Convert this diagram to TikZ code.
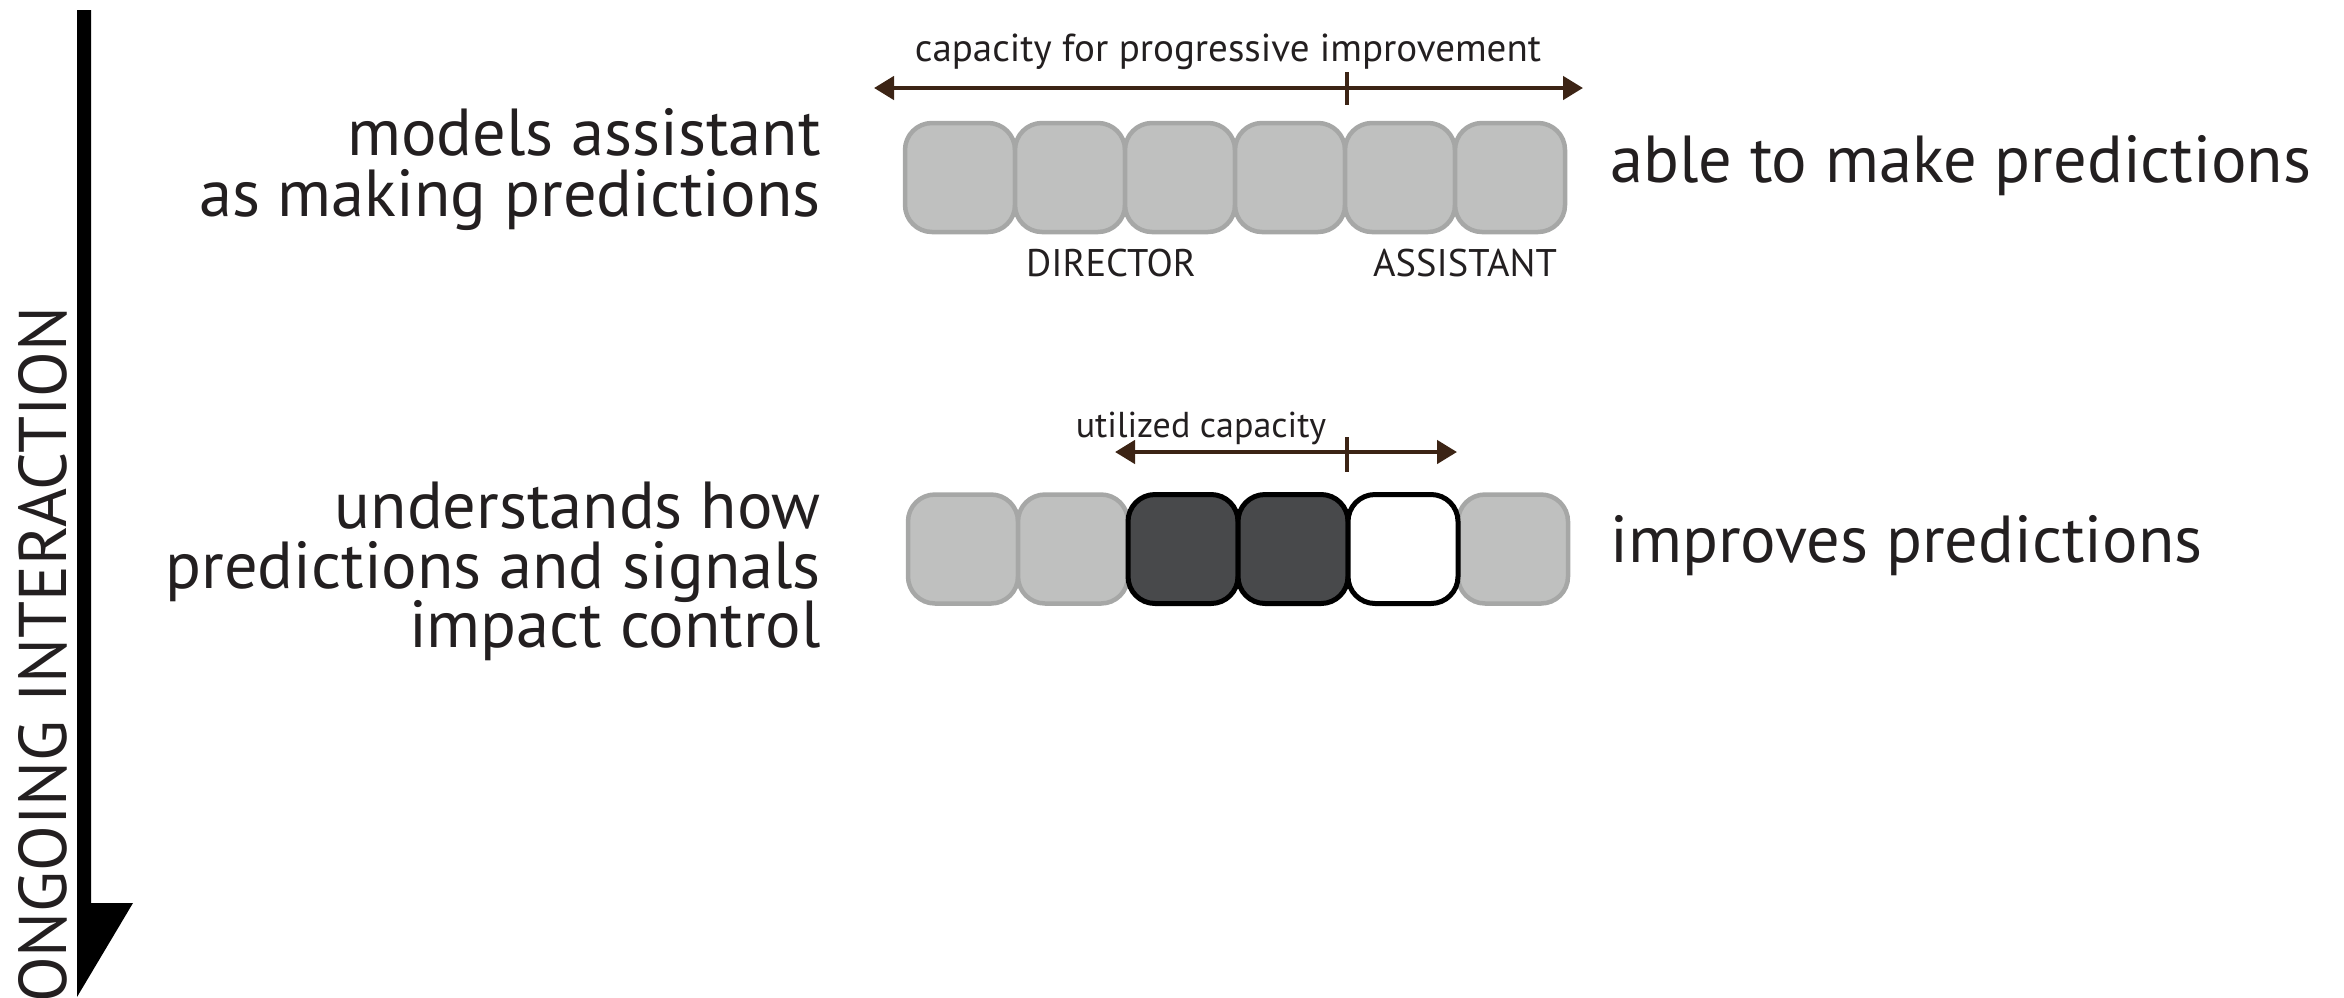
\documentclass[tikz,border=0pt]{standalone}
\usepackage{fontspec}
\setmainfont{PT Sans}
\usetikzlibrary{arrows.meta}
\definecolor{ink}{HTML}{231F20}
\definecolor{cellfill}{HTML}{BFC0BF}
\definecolor{celledge}{HTML}{A6A7A6}
\definecolor{usedfill}{HTML}{48494B}
\definecolor{spanbrown}{HTML}{3C2415}

\begin{document}
\begin{tikzpicture}[x=1pt,y=-1pt,
  cell/.style={draw=celledge, fill=cellfill, line width=4.5pt, rounded corners=27pt,
    minimum width=110pt, minimum height=109pt, inner sep=0pt, outer sep=0pt},
  usedcell/.style={cell, draw=black, fill=usedfill, line width=5pt},
  freecell/.style={cell, draw=black, fill=white, line width=5pt},
  spanarrow/.style={draw=spanbrown, line width=4.5pt,
    {Triangle[length=20pt,width=23pt]}-{Triangle[length=20pt,width=23pt]}},
  tickmark/.style={draw=spanbrown, line width=4pt},
  bigtext/.style={text=ink, inner sep=0pt, font=\fontsize{66.5}{62}\selectfont},
  smalltext/.style={text=ink, inner sep=0pt, font=\fontsize{36}{40}\selectfont},
  captext/.style={smalltext, font=\fontsize{39}{42}\selectfont},
  roletext/.style={smalltext, font=\fontsize{38.5}{42}\selectfont},
]
\useasboundingbox (0,0) rectangle (2344,997);

% time axis on the left
\fill[black] (77,10) -- (91,10) -- (91,903) -- (133,903) -- (77,997) -- cycle;
\node[inner sep=0pt, anchor=base west, rotate=90, text=ink] (axis) at (66,1003)
  {\resizebox{696pt}{48pt}{\fontsize{60}{60}\selectfont ONGOING INTERACTION}};

% first stage: full row of capacity cells
\foreach \i/\x in {1/960,2/1070,3/1180,4/1290,5/1400,6/1510}
  \node[cell] (t\i) at (\x,177.5) {};

\coordinate (capL) at (874,88);
\coordinate (capR) at (1583,88);
\coordinate (capTa) at (1347,72);
\coordinate (capTb) at (1347,105);
\draw[spanarrow] (capL) -- (capR);
\draw[tickmark] (capTa) -- (capTb);
\node[captext, anchor=base] (caplab) at (1228,61) {capacity for progressive improvement};

\node[roletext, anchor=base] (dir) at (1111,276) {DIRECTOR};
\node[roletext, anchor=base] (asst) at (1465,276) {ASSISTANT};

\node[bigtext, anchor=base east] (m1) at (821,155) {models assistant};
\node[bigtext, anchor=base east] (m2) at (821,216) {as making predictions};
\node[bigtext, anchor=base west] (r1) at (1610,182) {able to make predictions};

% second stage: cells in use
\foreach \i/\x in {1/963,2/1073,6/1513}
  \node[cell] (b\i) at (\x,549) {};
\node[usedcell] (b3) at (1183,549) {};
\node[usedcell] (b4) at (1293,549) {};
\node[freecell] (b5) at (1403,549) {};

\coordinate (useL) at (1115,452);
\coordinate (useR) at (1457,452);
\coordinate (useTa) at (1347,437);
\coordinate (useTb) at (1347,472);
\draw[spanarrow] (useL) -- (useR);
\draw[tickmark] (useTa) -- (useTb);
\node[smalltext, anchor=base] (uselab) at (1201,437) {utilized capacity};

\node[bigtext, anchor=base east] (u1) at (821,528) {understands how};
\node[bigtext, anchor=base east] (u2) at (821,588) {predictions and signals};
\node[bigtext, anchor=base east] (u3) at (821,647) {impact control};
\node[bigtext, anchor=base west] (r2) at (1610,562) {improves predictions};
\end{tikzpicture}
\end{document}
